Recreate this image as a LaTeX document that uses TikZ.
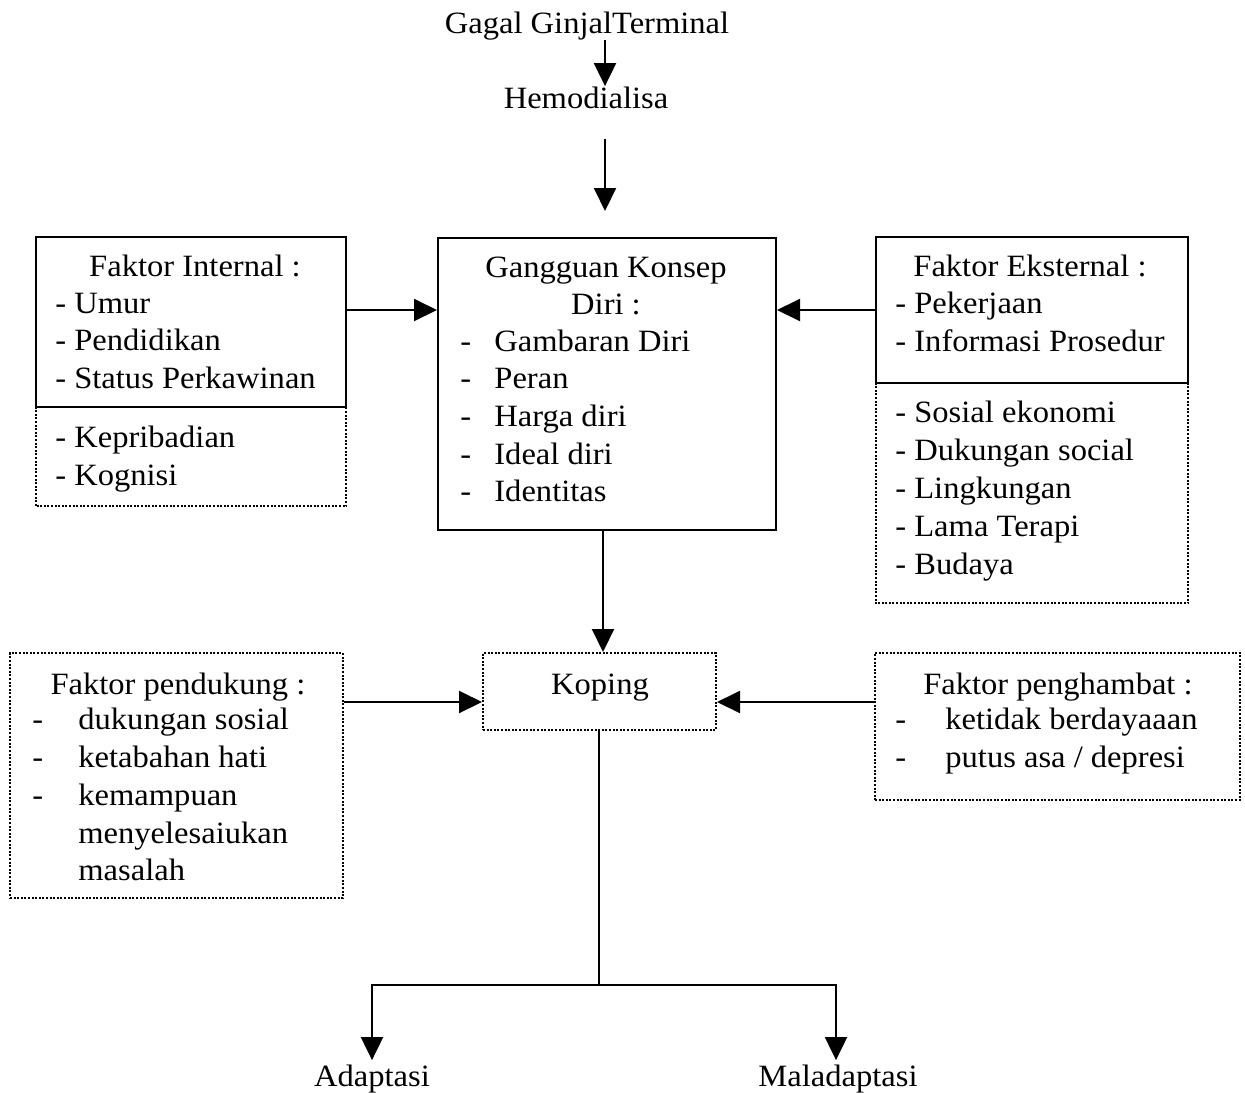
\documentclass[tikz,border=0pt]{standalone}
\usepackage{fontspec}
\setmainfont[FakeStretch=1.05]{Liberation Serif}
\usetikzlibrary{arrows.meta,fit}
\begin{document}
\begin{tikzpicture}[x=0.5pt,y=-0.5pt,
  txt/.style={font=\fontsize{15.5pt}{19pt}\selectfont, inner sep=0pt, anchor=base west},
  ctxt/.style={txt, anchor=base},
  solidbox/.style={draw, line width=1pt, inner sep=0pt},
  dotline/.style={line width=1pt, dash pattern=on 1pt off 0.8pt},
  dotbox/.style={draw, dotline, inner sep=0pt},
  area/.style={inner sep=0pt},
  arr/.style={line width=1pt, -{Triangle[length=11.5pt,width=11pt]}},
  conn/.style={line width=1pt}]
\useasboundingbox (0,0) rectangle (1245,1092);

% top chain
\node[ctxt] (ggt) at (587,33) {Gagal GinjalTerminal};
\node[ctxt] (hemo) at (586,108) {Hemodialisa};
\coordinate (xA) at (605,0);

% central box
\node[solidbox, fit={(438,238)(776,530)}] (gang) {};
\node[ctxt] (g0) at (606,277) {Gangguan Konsep};
\node[ctxt] (g1) at (606,314) {Diri :};
\foreach \t [count=\i from 0] in {Gambaran Diri, Peran, Harga diri, Ideal diri, Identitas}{
  \node[txt] (gd\i) at (460,{351+37.7*\i}) {-};
  \node[txt] (gt\i) at (494,{351+37.7*\i}) {\t};
}

% internal factors
\node[solidbox, fit={(36,237)(346,407)}] (inttop) {};
\node[area, fit={(36,407)(346,506)}] (intbot) {};
\draw[dotline] (intbot.north west) -- (intbot.south west) -- (intbot.south east) -- (intbot.north east);
\node[ctxt] (i0) at (195,276) {Faktor Internal :};
\foreach \t [count=\i from 0] in {Umur, Pendidikan, Status Perkawinan}{
  \node[txt] (it\i) at (55,{313+37.7*\i}) {- \t};
}
\node[txt] (ib0) at (55,447) {- Kepribadian};
\node[txt] (ib1) at (55,485) {- Kognisi};

% external factors
\node[solidbox, fit={(876,237)(1188,383)}] (exttop) {};
\node[area, fit={(876,383)(1188,603)}] (extbot) {};
\draw[dotline] (extbot.north west) -- (extbot.south west) -- (extbot.south east) -- (extbot.north east);
\node[ctxt] (e0) at (1030,276) {Faktor Eksternal :};
\node[txt] (et0) at (895,313) {- Pekerjaan};
\node[txt] (et1) at (895,351) {- Informasi Prosedur};
\foreach \t [count=\i from 0] in {Sosial ekonomi, Dukungan social, Lingkungan, Lama Terapi, Budaya}{
  \node[txt] (eb\i) at (895,{422+38*\i}) {- \t};
}

% koping
\node[dotbox, fit={(483,653)(716,730)}] (kop) {};
\node[ctxt] (koptxt) at (600,694) {Koping};

% supporting factors
\node[dotbox, fit={(10,653)(343,898)}] (pend) {};
\node[ctxt] (p0) at (178,694) {Faktor pendukung :};
\foreach \t [count=\i from 0] in {dukungan sosial, ketabahan hati, kemampuan}{
  \node[txt] (pd\i) at (32,{729+38*\i}) {-};
  \node[txt] (pt\i) at (78,{729+38*\i}) {\t};
}
\node[txt] (pt3) at (78,843) {menyelesaiukan};
\node[txt] (pt4) at (78,880) {masalah};

% inhibiting factors
\node[dotbox, fit={(875,653)(1240,800)}] (peng) {};
\node[ctxt] (h0) at (1058,694) {Faktor penghambat :};
\foreach \t [count=\i from 0] in {ketidak berdayaaan, putus asa / depresi}{
  \node[txt] (hd\i) at (895,{729+38*\i}) {-};
  \node[txt] (ht\i) at (945,{729+38*\i}) {\t};
}

% outcomes
\node[ctxt] (adap) at (372,1086) {Adaptasi};
\node[ctxt] (mal) at (838,1086) {Maladaptasi};

% connectors
\coordinate (yA) at (0,310);
\coordinate (yB) at (0,702);
\coordinate (xB) at (603,0);
\coordinate (split) at (599,985);
\draw[arr] (ggt.south -| xA) -- (hemo.north -| xA);
\draw[arr] ([yshift=-15pt]hemo.south -| xA) -- ([yshift=13pt]gang.north -| xA);
\draw[arr] (inttop.east |- yA) -- (gang.west |- yA);
\draw[arr] (exttop.west |- yA) -- (gang.east |- yA);
\draw[arr] (gang.south -| xB) -- (kop.north -| xB);
\draw[arr] (pend.east |- yB) -- (kop.west |- yB);
\draw[arr] (peng.west |- yB) -- (kop.east |- yB);
\draw[conn] (kop.south -| split) -- (split);
\draw[arr] (split) -| ([yshift=2pt]adap.north);
\draw[arr] (split) -| ([yshift=2pt,xshift=-1pt]mal.north);
\end{tikzpicture}
\end{document}
